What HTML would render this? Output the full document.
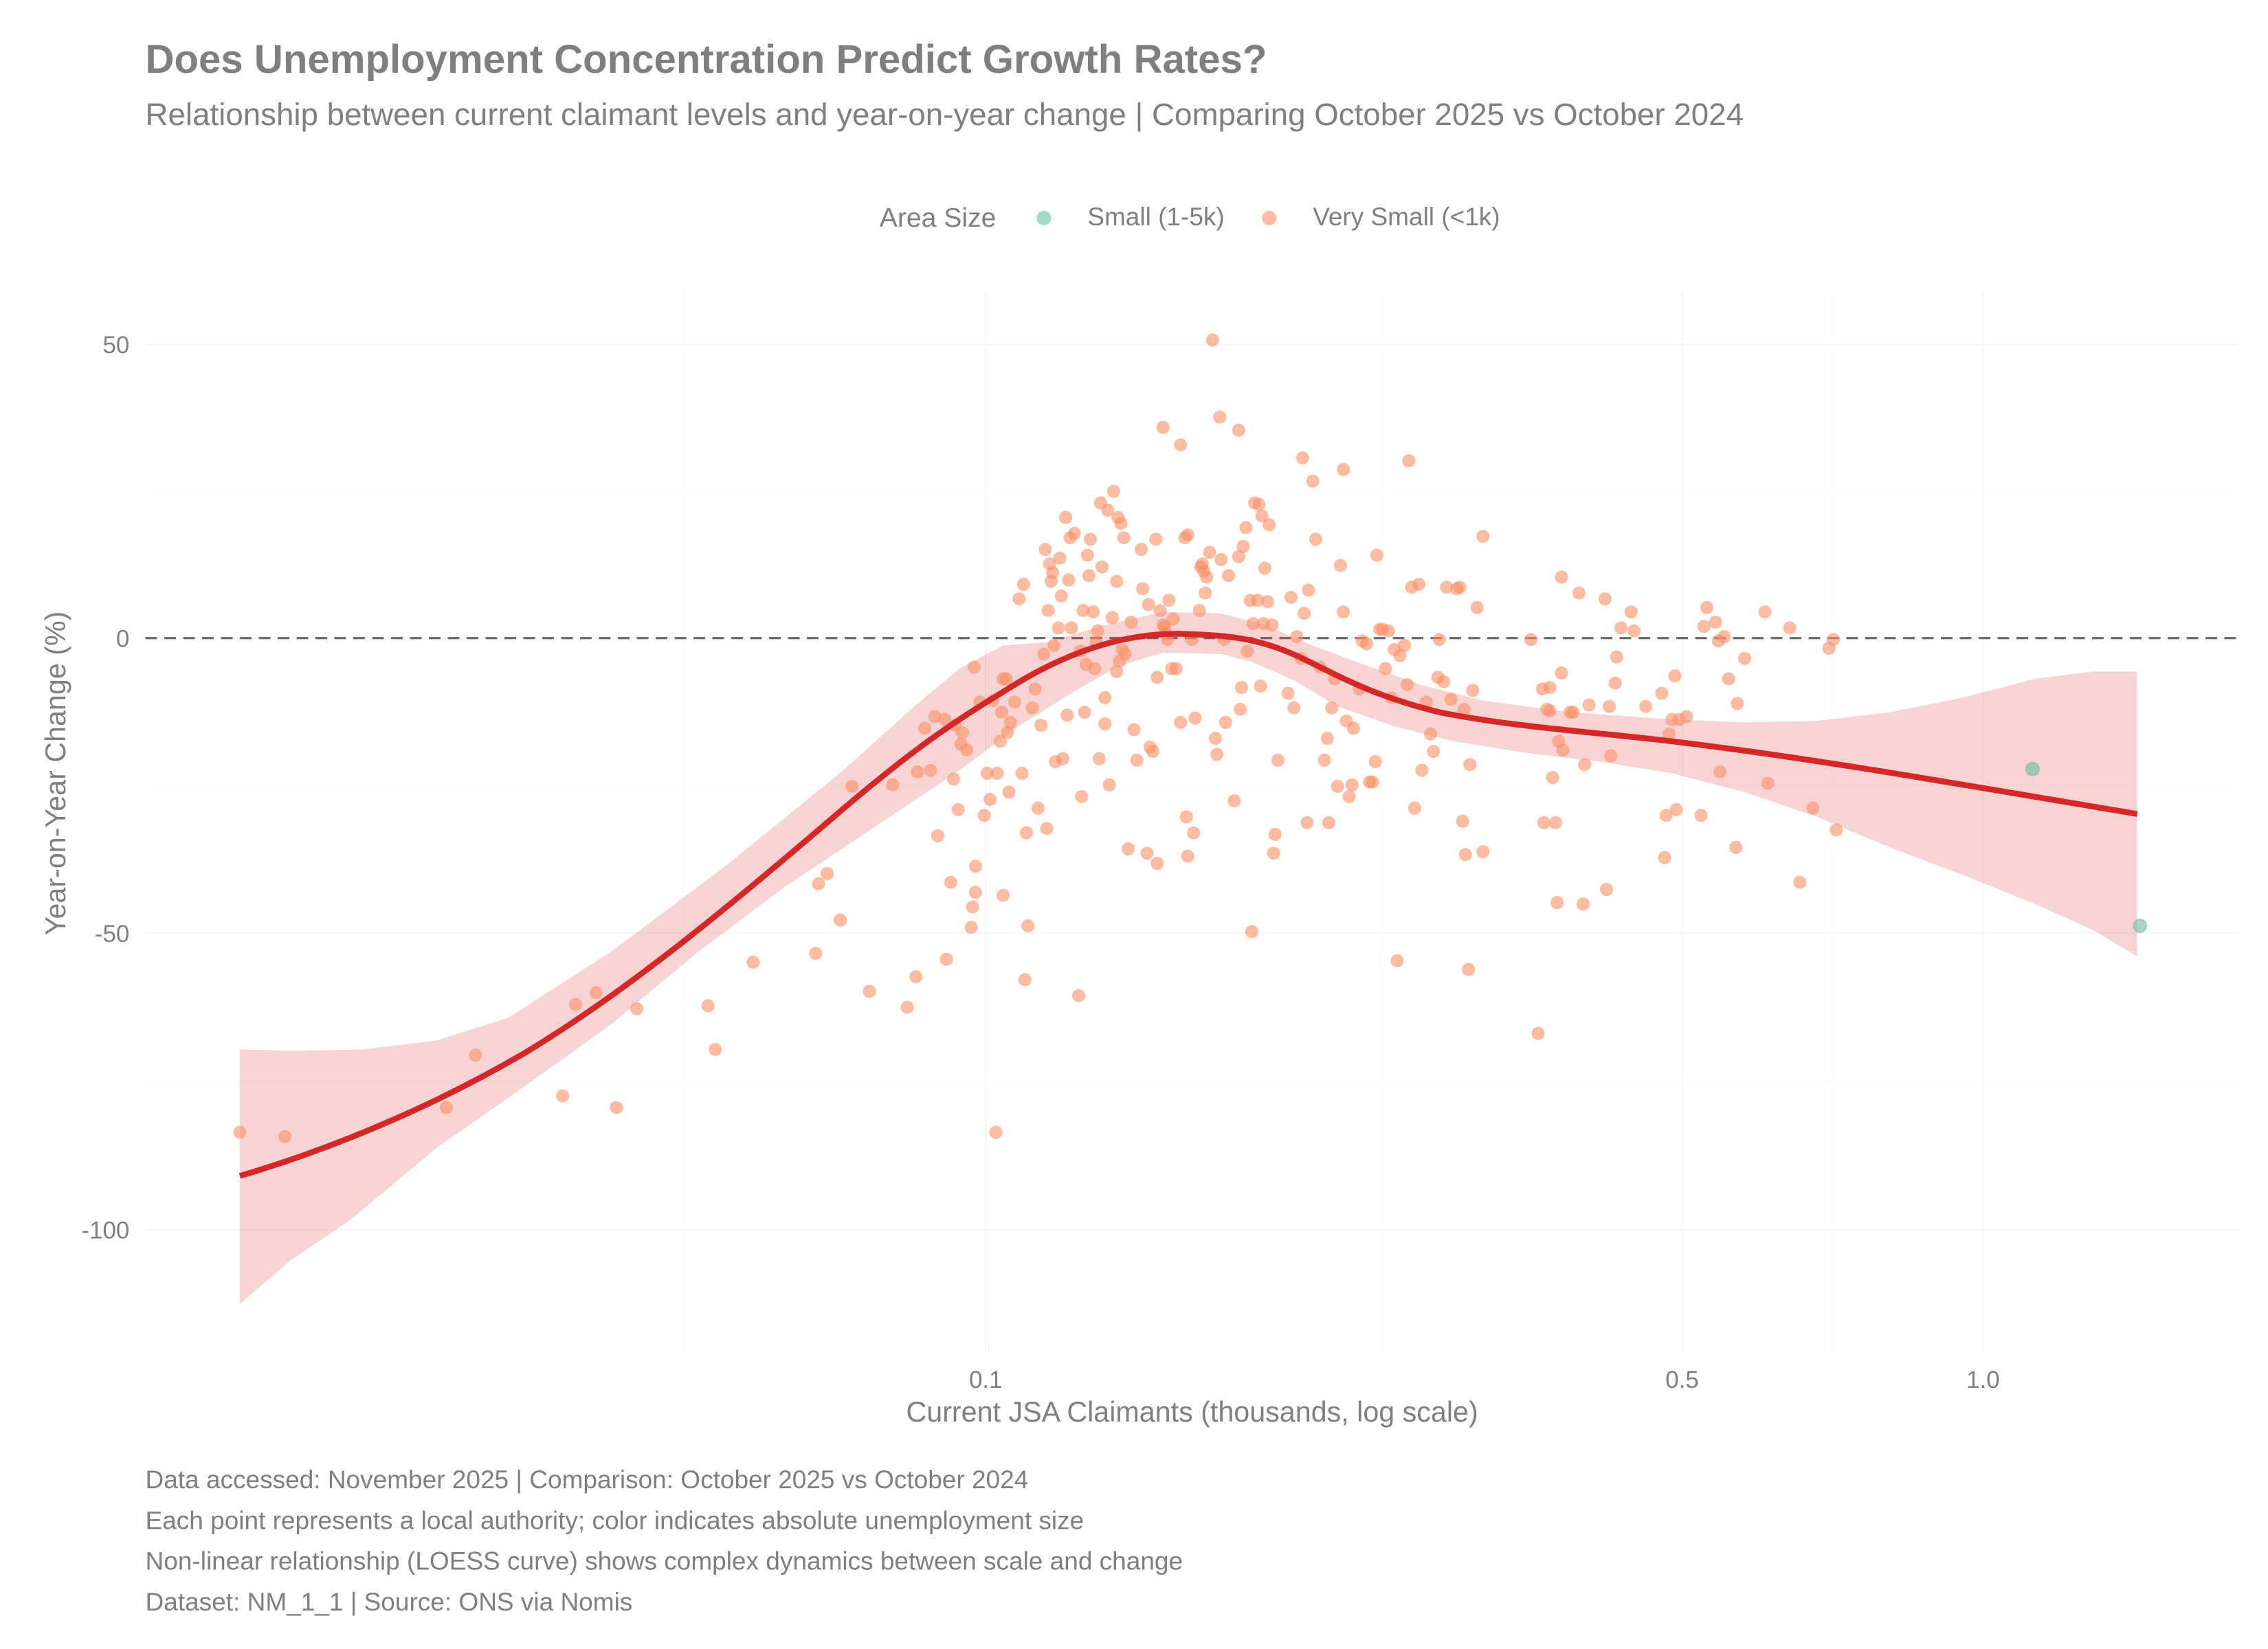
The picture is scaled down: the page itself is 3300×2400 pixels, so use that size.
<!DOCTYPE html>
<html><head><meta charset="utf-8"><style>html,body{margin:0;padding:0;background:#fff}svg{display:block}</style></head>
<body>
<svg xmlns="http://www.w3.org/2000/svg" width="3300" height="2400" viewBox="0 0 1560 1134.5" font-family="Liberation Sans, Arial, sans-serif">
<rect width="1560" height="1134.5" fill="#fff"/>
<text x="100" y="50" font-size="27.5" font-weight="bold" fill="#7f7f7f">Does Unemployment Concentration Predict Growth Rates?</text>
<text x="100" y="86" font-size="21.6" fill="#7f7f7f">Relationship between current claimant levels and year-on-year change | Comparing October 2025 vs October 2024</text>
<text x="605" y="156" font-size="18.5" fill="#7f7f7f">Area Size</text>
<circle cx="718" cy="150" r="5" fill="#66c2a5" fill-opacity="0.6"/>
<text x="748" y="155" font-size="17.5" fill="#7f7f7f">Small (1-5k)</text>
<circle cx="873" cy="150" r="5" fill="#fc8d62" fill-opacity="0.6"/>
<text x="903" y="155" font-size="17.5" fill="#7f7f7f">Very Small (&lt;1k)</text>
<g stroke="#f6f6f6" stroke-width="1">
<line x1="100" x2="1540" y1="237" y2="237"/><line x1="100" x2="1540" y1="439" y2="439"/><line x1="100" x2="1540" y1="642" y2="642"/><line x1="100" x2="1540" y1="846" y2="846"/>
<line x1="678" x2="678" y1="200" y2="930"/><line x1="1157" x2="1157" y1="200" y2="930"/><line x1="1364" x2="1364" y1="200" y2="930"/>
</g>
<g stroke="#fbfbfb" stroke-width="0.8">
<line x1="100" x2="1540" y1="338" y2="338"/><line x1="100" x2="1540" y1="540" y2="540"/><line x1="100" x2="1540" y1="744" y2="744"/>
<line x1="470" x2="470" y1="200" y2="930"/><line x1="950" x2="950" y1="200" y2="930"/><line x1="1260" x2="1260" y1="200" y2="930"/>
</g>
<line x1="100" x2="1540" y1="439" y2="439" stroke="#666" stroke-width="1.5" stroke-dasharray="8,5"/>
<polygon points="165,722 200,723 250,722 300,716 350,700 420,655 500,595 580,530 630,485 660,460 690,444 720,442 760,430 800,421 840,422 870,430 900,443 940,458 980,472 1020,482 1080,490 1150,495 1200,497 1250,496 1300,490 1350,480 1400,467 1440,462 1470,462 1470,658 1440,640 1400,622 1350,602 1300,583 1250,562 1200,545 1150,532 1100,524 1050,518 1000,510 960,500 920,486 890,468 860,455 840,450 800,449 770,458 740,475 700,500 660,530 600,570 540,610 480,655 420,705 360,748 300,790 240,840 200,867 165,897" fill="#d62728" fill-opacity="0.2"/>
<g fill="#fc8d62" fill-opacity="0.6">
<circle cx="165" cy="779" r="4.5"/><circle cx="196" cy="782" r="4.5"/><circle cx="307" cy="762" r="4.5"/><circle cx="327" cy="726" r="4.5"/><circle cx="387" cy="754" r="4.5"/><circle cx="396" cy="691" r="4.5"/><circle cx="410" cy="683" r="4.5"/><circle cx="424" cy="762" r="4.5"/><circle cx="438" cy="694" r="4.5"/><circle cx="487" cy="692" r="4.5"/><circle cx="492" cy="722" r="4.5"/><circle cx="518" cy="662" r="4.5"/><circle cx="561" cy="656" r="4.5"/><circle cx="563" cy="608" r="4.5"/><circle cx="569" cy="601" r="4.5"/><circle cx="578" cy="633" r="4.5"/><circle cx="586" cy="541" r="4.5"/><circle cx="598" cy="682" r="4.5"/><circle cx="614" cy="540" r="4.5"/><circle cx="624" cy="693" r="4.5"/><circle cx="630" cy="672" r="4.5"/><circle cx="631" cy="531" r="4.5"/><circle cx="636" cy="501" r="4.5"/><circle cx="640" cy="530" r="4.5"/><circle cx="643" cy="493" r="4.5"/><circle cx="645" cy="575" r="4.5"/><circle cx="650" cy="495" r="4.5"/><circle cx="651" cy="660" r="4.5"/><circle cx="654" cy="607" r="4.5"/><circle cx="656" cy="536" r="4.5"/><circle cx="657" cy="499" r="4.5"/><circle cx="659" cy="557" r="4.5"/><circle cx="661" cy="512" r="4.5"/><circle cx="662" cy="504" r="4.5"/><circle cx="665" cy="516" r="4.5"/><circle cx="668" cy="638" r="4.5"/><circle cx="669" cy="624" r="4.5"/><circle cx="670" cy="459" r="4.5"/><circle cx="671" cy="596" r="4.5"/><circle cx="671" cy="614" r="4.5"/><circle cx="674" cy="483" r="4.5"/><circle cx="677" cy="561" r="4.5"/><circle cx="679" cy="532" r="4.5"/><circle cx="681" cy="550" r="4.5"/><circle cx="683" cy="482" r="4.5"/><circle cx="685" cy="779" r="4.5"/><circle cx="686" cy="532" r="4.5"/><circle cx="688" cy="510" r="4.5"/><circle cx="689" cy="490" r="4.5"/><circle cx="690" cy="467" r="4.5"/><circle cx="690" cy="616" r="4.5"/><circle cx="692" cy="467" r="4.5"/><circle cx="693" cy="504" r="4.5"/><circle cx="694" cy="545" r="4.5"/><circle cx="695" cy="497" r="4.5"/><circle cx="698" cy="483" r="4.5"/><circle cx="701" cy="412" r="4.5"/><circle cx="703" cy="532" r="4.5"/><circle cx="704" cy="402" r="4.5"/><circle cx="705" cy="674" r="4.5"/><circle cx="706" cy="573" r="4.5"/><circle cx="707" cy="637" r="4.5"/><circle cx="710" cy="487" r="4.5"/><circle cx="712" cy="474" r="4.5"/><circle cx="714" cy="556" r="4.5"/><circle cx="716" cy="499" r="4.5"/><circle cx="718" cy="450" r="4.5"/><circle cx="719" cy="378" r="4.5"/><circle cx="720" cy="570" r="4.5"/><circle cx="721" cy="420" r="4.5"/><circle cx="722" cy="388" r="4.5"/><circle cx="723" cy="400" r="4.5"/><circle cx="724" cy="394" r="4.5"/><circle cx="725" cy="444" r="4.5"/><circle cx="726" cy="524" r="4.5"/><circle cx="728" cy="432" r="4.5"/><circle cx="729" cy="384" r="4.5"/><circle cx="730" cy="410" r="4.5"/><circle cx="731" cy="522" r="4.5"/><circle cx="733" cy="356" r="4.5"/><circle cx="734" cy="492" r="4.5"/><circle cx="735" cy="399" r="4.5"/><circle cx="736" cy="370" r="4.5"/><circle cx="737" cy="432" r="4.5"/><circle cx="739" cy="367" r="4.5"/><circle cx="742" cy="685" r="4.5"/><circle cx="743" cy="448" r="4.5"/><circle cx="744" cy="548" r="4.5"/><circle cx="745" cy="420" r="4.5"/><circle cx="746" cy="490" r="4.5"/><circle cx="747" cy="457" r="4.5"/><circle cx="748" cy="382" r="4.5"/><circle cx="749" cy="396" r="4.5"/><circle cx="750" cy="371" r="4.5"/><circle cx="752" cy="421" r="4.5"/><circle cx="753" cy="460" r="4.5"/><circle cx="754" cy="442" r="4.5"/><circle cx="755" cy="434" r="4.5"/><circle cx="756" cy="522" r="4.5"/><circle cx="757" cy="346" r="4.5"/><circle cx="758" cy="390" r="4.5"/><circle cx="760" cy="480" r="4.5"/><circle cx="760" cy="498" r="4.5"/><circle cx="762" cy="351" r="4.5"/><circle cx="763" cy="540" r="4.5"/><circle cx="765" cy="425" r="4.5"/><circle cx="766" cy="338" r="4.5"/><circle cx="768" cy="462" r="4.5"/><circle cx="768" cy="400" r="4.5"/><circle cx="769" cy="356" r="4.5"/><circle cx="770" cy="455" r="4.5"/><circle cx="771" cy="360" r="4.5"/><circle cx="772" cy="447" r="4.5"/><circle cx="773" cy="370" r="4.5"/><circle cx="774" cy="450" r="4.5"/><circle cx="776" cy="584" r="4.5"/><circle cx="778" cy="428" r="4.5"/><circle cx="780" cy="502" r="4.5"/><circle cx="782" cy="523" r="4.5"/><circle cx="785" cy="378" r="4.5"/><circle cx="786" cy="405" r="4.5"/><circle cx="789" cy="587" r="4.5"/><circle cx="790" cy="416" r="4.5"/><circle cx="791" cy="514" r="4.5"/><circle cx="793" cy="517" r="4.5"/><circle cx="795" cy="371" r="4.5"/><circle cx="796" cy="594" r="4.5"/><circle cx="796" cy="466" r="4.5"/><circle cx="798" cy="420" r="4.5"/><circle cx="800" cy="294" r="4.5"/><circle cx="800" cy="430" r="4.5"/><circle cx="801" cy="431" r="4.5"/><circle cx="802" cy="436" r="4.5"/><circle cx="803" cy="440" r="4.5"/><circle cx="804" cy="413" r="4.5"/><circle cx="806" cy="460" r="4.5"/><circle cx="807" cy="426" r="4.5"/><circle cx="809" cy="460" r="4.5"/><circle cx="812" cy="306" r="4.5"/><circle cx="812" cy="497" r="4.5"/><circle cx="815" cy="370" r="4.5"/><circle cx="816" cy="562" r="4.5"/><circle cx="817" cy="368" r="4.5"/><circle cx="817" cy="589" r="4.5"/><circle cx="820" cy="440" r="4.5"/><circle cx="821" cy="573" r="4.5"/><circle cx="822" cy="494" r="4.5"/><circle cx="825" cy="420" r="4.5"/><circle cx="826" cy="390" r="4.5"/><circle cx="827" cy="388" r="4.5"/><circle cx="828" cy="393" r="4.5"/><circle cx="829" cy="408" r="4.5"/><circle cx="830" cy="397" r="4.5"/><circle cx="832" cy="380" r="4.5"/><circle cx="834" cy="234" r="4.5"/><circle cx="836" cy="508" r="4.5"/><circle cx="837" cy="519" r="4.5"/><circle cx="839" cy="287" r="4.5"/><circle cx="840" cy="385" r="4.5"/><circle cx="842" cy="440" r="4.5"/><circle cx="843" cy="497" r="4.5"/><circle cx="845" cy="396" r="4.5"/><circle cx="849" cy="551" r="4.5"/><circle cx="852" cy="296" r="4.5"/><circle cx="852" cy="383" r="4.5"/><circle cx="853" cy="488" r="4.5"/><circle cx="854" cy="473" r="4.5"/><circle cx="855" cy="376" r="4.5"/><circle cx="857" cy="363" r="4.5"/><circle cx="858" cy="448" r="4.5"/><circle cx="860" cy="413" r="4.5"/><circle cx="861" cy="641" r="4.5"/><circle cx="862" cy="429" r="4.5"/><circle cx="863" cy="346" r="4.5"/><circle cx="865" cy="413" r="4.5"/><circle cx="866" cy="347" r="4.5"/><circle cx="867" cy="472" r="4.5"/><circle cx="868" cy="355" r="4.5"/><circle cx="869" cy="429" r="4.5"/><circle cx="870" cy="391" r="4.5"/><circle cx="872" cy="414" r="4.5"/><circle cx="873" cy="361" r="4.5"/><circle cx="875" cy="430" r="4.5"/><circle cx="876" cy="587" r="4.5"/><circle cx="877" cy="574" r="4.5"/><circle cx="879" cy="523" r="4.5"/><circle cx="886" cy="477" r="4.5"/><circle cx="888" cy="411" r="4.5"/><circle cx="890" cy="487" r="4.5"/><circle cx="892" cy="438" r="4.5"/><circle cx="895" cy="453" r="4.5"/><circle cx="896" cy="315" r="4.5"/><circle cx="897" cy="422" r="4.5"/><circle cx="899" cy="566" r="4.5"/><circle cx="900" cy="406" r="4.5"/><circle cx="903" cy="331" r="4.5"/><circle cx="905" cy="371" r="4.5"/><circle cx="908" cy="459" r="4.5"/><circle cx="911" cy="523" r="4.5"/><circle cx="913" cy="508" r="4.5"/><circle cx="914" cy="566" r="4.5"/><circle cx="916" cy="487" r="4.5"/><circle cx="918" cy="467" r="4.5"/><circle cx="920" cy="541" r="4.5"/><circle cx="922" cy="389" r="4.5"/><circle cx="924" cy="421" r="4.5"/><circle cx="924" cy="323" r="4.5"/><circle cx="926" cy="496" r="4.5"/><circle cx="928" cy="548" r="4.5"/><circle cx="930" cy="540" r="4.5"/><circle cx="931" cy="501" r="4.5"/><circle cx="935" cy="474" r="4.5"/><circle cx="937" cy="441" r="4.5"/><circle cx="940" cy="443" r="4.5"/><circle cx="942" cy="538" r="4.5"/><circle cx="944" cy="538" r="4.5"/><circle cx="946" cy="524" r="4.5"/><circle cx="947" cy="382" r="4.5"/><circle cx="949" cy="433" r="4.5"/><circle cx="951" cy="433" r="4.5"/><circle cx="953" cy="460" r="4.5"/><circle cx="955" cy="434" r="4.5"/><circle cx="957" cy="480" r="4.5"/><circle cx="959" cy="447" r="4.5"/><circle cx="961" cy="661" r="4.5"/><circle cx="963" cy="451" r="4.5"/><circle cx="966" cy="444" r="4.5"/><circle cx="968" cy="471" r="4.5"/><circle cx="969" cy="317" r="4.5"/><circle cx="971" cy="404" r="4.5"/><circle cx="973" cy="556" r="4.5"/><circle cx="976" cy="402" r="4.5"/><circle cx="978" cy="530" r="4.5"/><circle cx="981" cy="483" r="4.5"/><circle cx="984" cy="505" r="4.5"/><circle cx="986" cy="517" r="4.5"/><circle cx="989" cy="466" r="4.5"/><circle cx="990" cy="440" r="4.5"/><circle cx="993" cy="469" r="4.5"/><circle cx="995" cy="404" r="4.5"/><circle cx="998" cy="481" r="4.5"/><circle cx="1002" cy="405" r="4.5"/><circle cx="1004" cy="404" r="4.5"/><circle cx="1006" cy="565" r="4.5"/><circle cx="1007" cy="488" r="4.5"/><circle cx="1008" cy="588" r="4.5"/><circle cx="1010" cy="667" r="4.5"/><circle cx="1011" cy="526" r="4.5"/><circle cx="1013" cy="475" r="4.5"/><circle cx="1016" cy="418" r="4.5"/><circle cx="1020" cy="369" r="4.5"/><circle cx="1020" cy="586" r="4.5"/><circle cx="1053" cy="440" r="4.5"/><circle cx="1058" cy="711" r="4.5"/><circle cx="1061" cy="474" r="4.5"/><circle cx="1062" cy="566" r="4.5"/><circle cx="1064" cy="488" r="4.5"/><circle cx="1066" cy="473" r="4.5"/><circle cx="1066" cy="489" r="4.5"/><circle cx="1068" cy="535" r="4.5"/><circle cx="1070" cy="566" r="4.5"/><circle cx="1071" cy="621" r="4.5"/><circle cx="1072" cy="510" r="4.5"/><circle cx="1074" cy="463" r="4.5"/><circle cx="1075" cy="516" r="4.5"/><circle cx="1074" cy="397" r="4.5"/><circle cx="1080" cy="490" r="4.5"/><circle cx="1082" cy="490" r="4.5"/><circle cx="1086" cy="408" r="4.5"/><circle cx="1089" cy="622" r="4.5"/><circle cx="1090" cy="526" r="4.5"/><circle cx="1093" cy="485" r="4.5"/><circle cx="1104" cy="412" r="4.5"/><circle cx="1105" cy="612" r="4.5"/><circle cx="1107" cy="486" r="4.5"/><circle cx="1108" cy="520" r="4.5"/><circle cx="1111" cy="470" r="4.5"/><circle cx="1112" cy="452" r="4.5"/><circle cx="1115" cy="432" r="4.5"/><circle cx="1122" cy="421" r="4.5"/><circle cx="1124" cy="434" r="4.5"/><circle cx="1132" cy="486" r="4.5"/><circle cx="1143" cy="477" r="4.5"/><circle cx="1145" cy="590" r="4.5"/><circle cx="1146" cy="561" r="4.5"/><circle cx="1148" cy="505" r="4.5"/><circle cx="1150" cy="495" r="4.5"/><circle cx="1152" cy="465" r="4.5"/><circle cx="1153" cy="557" r="4.5"/><circle cx="1155" cy="495" r="4.5"/><circle cx="1160" cy="493" r="4.5"/><circle cx="1170" cy="561" r="4.5"/><circle cx="1172" cy="431" r="4.5"/><circle cx="1174" cy="418" r="4.5"/><circle cx="1180" cy="428" r="4.5"/><circle cx="1182" cy="441" r="4.5"/><circle cx="1183" cy="531" r="4.5"/><circle cx="1186" cy="438" r="4.5"/><circle cx="1189" cy="467" r="4.5"/><circle cx="1194" cy="583" r="4.5"/><circle cx="1195" cy="484" r="4.5"/><circle cx="1200" cy="453" r="4.5"/><circle cx="1214" cy="421" r="4.5"/><circle cx="1216" cy="539" r="4.5"/><circle cx="1231" cy="432" r="4.5"/><circle cx="1238" cy="607" r="4.5"/><circle cx="1247" cy="556" r="4.5"/><circle cx="1258" cy="446" r="4.5"/><circle cx="1261" cy="440" r="4.5"/><circle cx="1263" cy="571" r="4.5"/>
</g>
<g fill="#66c2a5" fill-opacity="0.6" stroke="#8a9a80" stroke-opacity="0.4">
<circle cx="1398" cy="529" r="4.5"/><circle cx="1472" cy="637" r="4.5"/>
</g>
<path d="M165,809 C230,790 300,760 360,725 C430,683 500,625 570,565 C620,522 650,500 690,476 C730,450 770,436 810,436 C850,437 870,440 900,455 C930,470 950,480 990,490 C1040,500 1090,503 1150,510 C1250,522 1350,540 1470,560" fill="none" stroke="#d62728" stroke-width="4"/>
<g font-size="16.5" fill="#7f7f7f" text-anchor="end">
<text x="89" y="243">50</text><text x="89" y="445">0</text><text x="89" y="648">-50</text><text x="89" y="852">-100</text>
</g>
<g font-size="16.5" fill="#7f7f7f" text-anchor="middle">
<text x="678" y="955">0.1</text><text x="1157" y="955">0.5</text><text x="1364" y="955">1.0</text>
</g>
<text x="820" y="978" font-size="19.5" fill="#7f7f7f" text-anchor="middle">Current JSA Claimants (thousands, log scale)</text>
<text transform="translate(45,532) rotate(-90)" font-size="19.5" fill="#7f7f7f" text-anchor="middle">Year-on-Year Change (%)</text>
<g font-size="17.5" fill="#7f7f7f">
<text x="100" y="1024">Data accessed: November 2025 | Comparison: October 2025 vs October 2024</text>
<text x="100" y="1052">Each point represents a local authority; color indicates absolute unemployment size</text>
<text x="100" y="1080">Non-linear relationship (LOESS curve) shows complex dynamics between scale and change</text>
<text x="100" y="1108">Dataset: NM_1_1 | Source: ONS via Nomis</text>
</g>
</svg>
</body></html>
